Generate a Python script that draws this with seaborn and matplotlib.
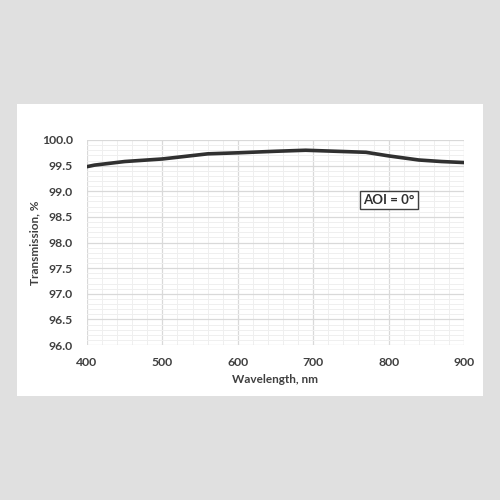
import numpy as np
import pandas as pd
import matplotlib
matplotlib.use('Agg')
import matplotlib.pyplot as plt
import seaborn as sns
from matplotlib.patches import Rectangle
from matplotlib.ticker import MultipleLocator

# data
wavelength = [400, 410, 450, 500, 560, 600, 650, 690, 730, 770, 800, 840, 870, 900]
transmission = [99.48, 99.51, 99.58, 99.63, 99.73, 99.75, 99.78, 99.80, 99.78, 99.76, 99.69, 99.61, 99.58, 99.56]

df = pd.DataFrame({'Wavelength': wavelength, 'Transmission': transmission})

sns.set_style('white')
plt.rcParams['font.family'] = ['Lato', 'DejaVu Sans']

fig = plt.figure(figsize=(5, 5), dpi=100)
fig.patch.set_facecolor('#e0e0e0')
fig.add_artist(Rectangle((0.034, 0.208), 0.932, 0.584, transform=fig.transFigure,
                         facecolor='white', edgecolor='none', zorder=-10))

ax = fig.add_axes([0.174, 0.31, 0.754, 0.41])
ax.set_facecolor('white')

sns.lineplot(data=df, x='Wavelength', y='Transmission', ax=ax, color='#303030', linewidth=2.6)

ax.set_xlim(400, 900)
ax.set_ylim(96.0, 100.0)
ax.xaxis.set_major_locator(MultipleLocator(100))
ax.xaxis.set_minor_locator(MultipleLocator(20))
ax.yaxis.set_major_locator(MultipleLocator(0.5))
ax.yaxis.set_minor_locator(MultipleLocator(0.1))
ax.yaxis.set_major_formatter(matplotlib.ticker.FormatStrFormatter('%.1f'))
ax.grid(which='major', color='#d9d9d9', linewidth=0.9)
ax.grid(which='minor', color='#efefef', linewidth=0.7)
ax.set_axisbelow(True)
for s in ax.spines.values():
    s.set_visible(False)
ax.tick_params(which='both', length=0)
ax.tick_params(axis='x', pad=9)
ax.tick_params(axis='y', pad=10)
for lab in ax.get_xticklabels() + ax.get_yticklabels():
    lab.set_fontsize(8.8)
    lab.set_fontweight('bold')
    lab.set_color('#404040')

ax.set_xlabel('Wavelength, nm', fontsize=8.5, fontweight='bold', color='#404040', labelpad=4)
ax.set_ylabel('Transmission, %', fontsize=8.5, fontweight='bold', color='#404040', labelpad=1)

ax.text(0.80, 0.707, 'AOI = 0°', transform=ax.transAxes, fontsize=9.5, fontweight='bold',
        color='#303030', va='center', ha='center',
        bbox=dict(boxstyle='square,pad=0.25', facecolor='white', edgecolor='#404040', linewidth=1))

fig.savefig('out.png', dpi=100, facecolor=fig.get_facecolor())
